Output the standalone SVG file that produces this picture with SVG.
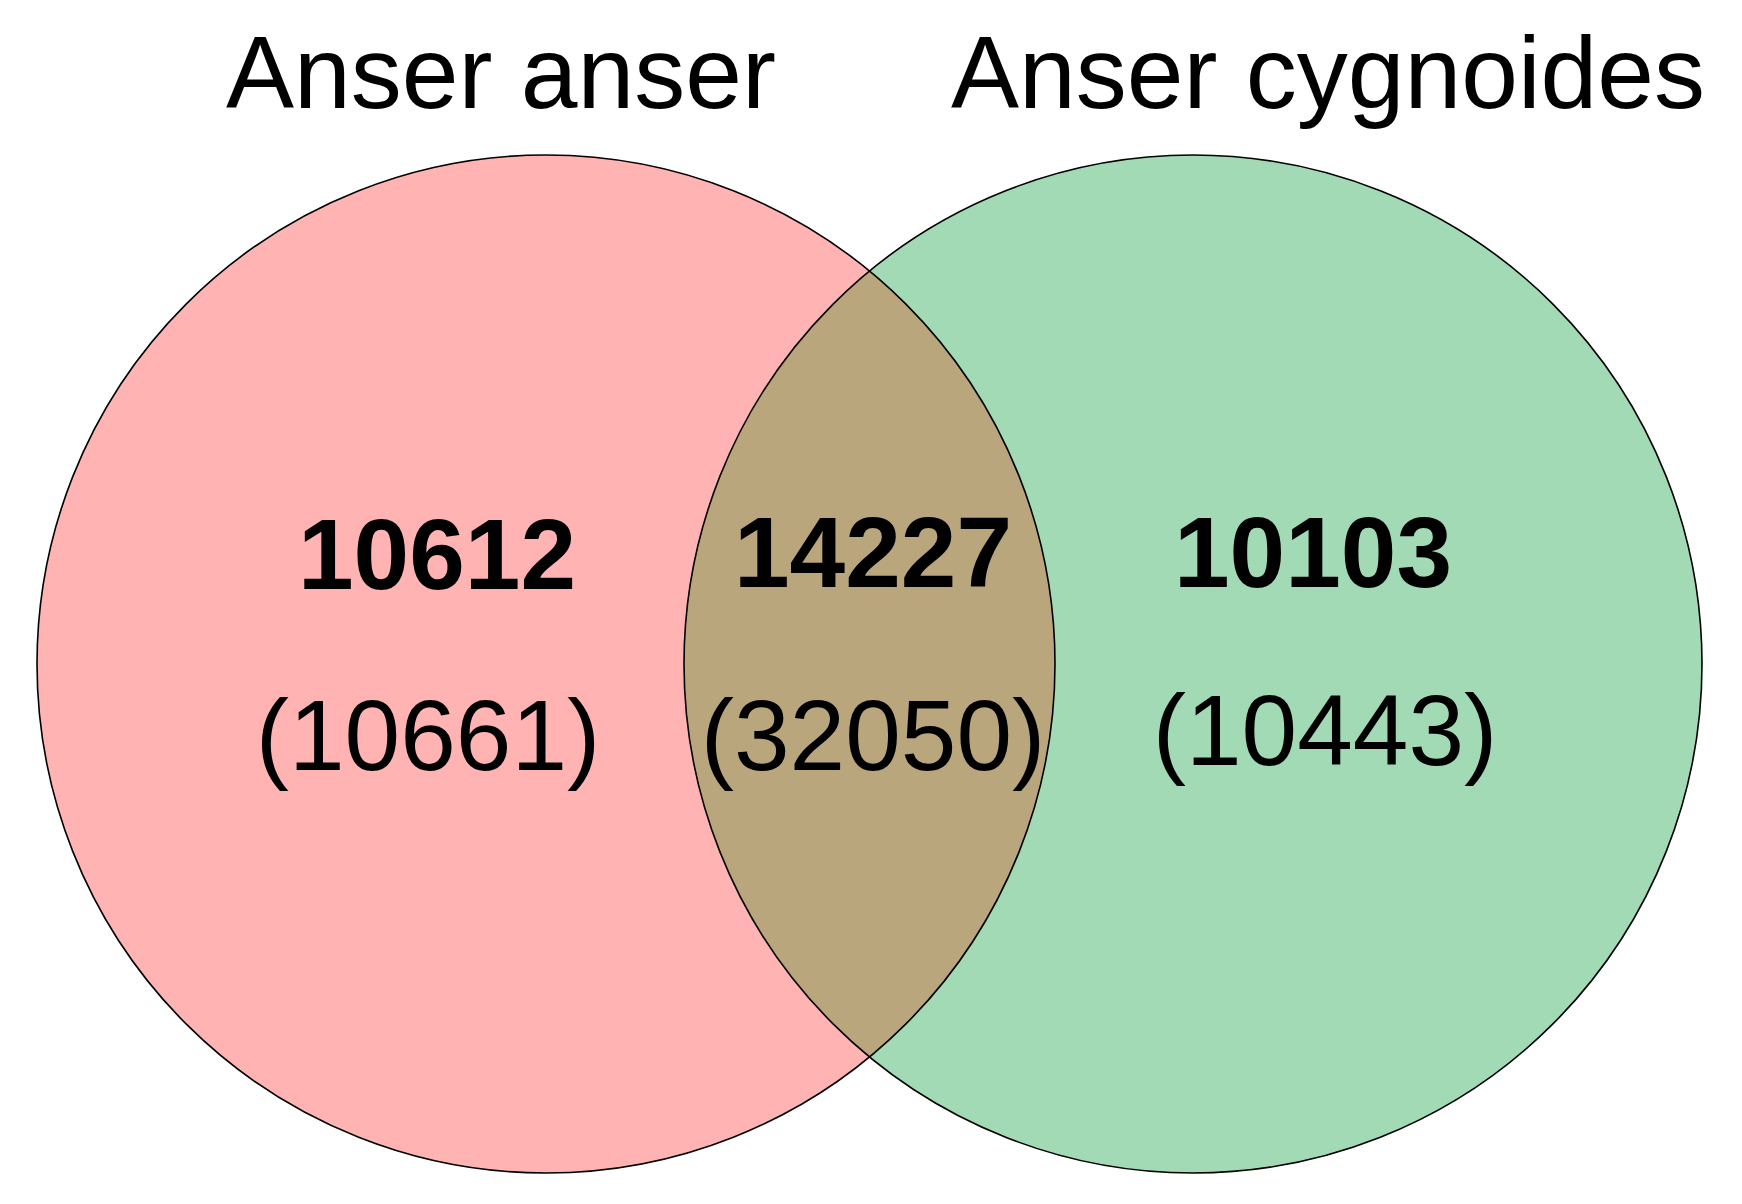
<svg xmlns="http://www.w3.org/2000/svg" width="1742" height="1204" viewBox="0 0 1742 1204">
  <style>
    .title { font-family: "Liberation Sans", Arial, sans-serif; font-size: 102px; fill: #000; text-anchor: middle; }
    .count { font-family: "Liberation Sans", Arial, sans-serif; font-size: 100px; font-weight: bold; fill: #000; text-anchor: middle; }
    .total { font-family: "Liberation Sans", Arial, sans-serif; font-size: 100px; fill: #000; text-anchor: middle; }
    .edge { fill: none; stroke: #000; stroke-width: 1.6; }
  </style>
  <rect x="0" y="0" width="1742" height="1204" fill="#ffffff"/>
  <g id="set-anser-anser">
    <circle cx="546" cy="664" r="509" fill="#FFB3B3"/>
  </g>
  <g id="set-anser-cygnoides">
    <circle cx="1193" cy="664" r="509" fill="#A1DAB4"/>
  </g>
  <g id="overlap">
    <path d="M 869.5 271.03 A 509 509 0 0 1 869.5 1056.97 A 509 509 0 0 1 869.5 271.03 Z" fill="#BAA67D"/>
  </g>
  <g id="outlines">
    <circle class="edge" cx="546" cy="664" r="509"/>
    <circle class="edge" cx="1193" cy="664" r="509"/>
  </g>
  <g id="labels">
    <text class="title" x="501" y="108">Anser anser</text>
    <text class="title" x="1328" y="108">Anser cygnoides</text>
    <text class="count" x="437" y="589">10612</text>
    <text class="total" x="428" y="770">(10661)</text>
    <text class="count" x="873" y="587">14227</text>
    <text class="total" x="873" y="770">(32050)</text>
    <text class="count" x="1313" y="587">10103</text>
    <text class="total" x="1325" y="765">(10443)</text>
  </g>
</svg>
